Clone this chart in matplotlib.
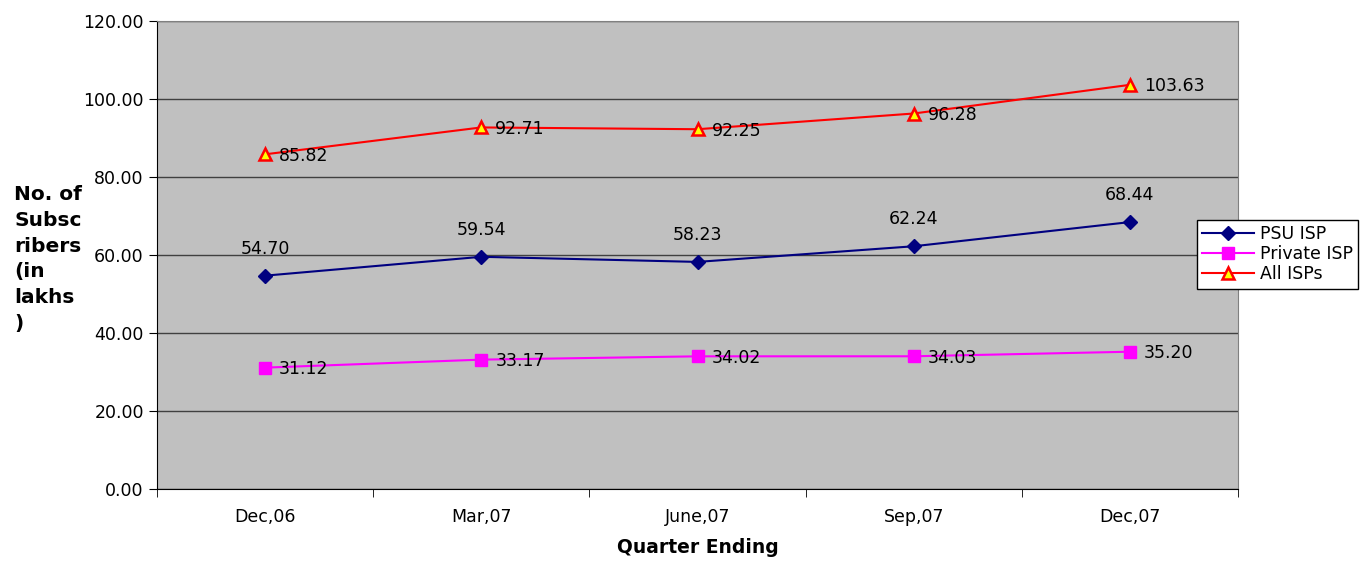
import matplotlib
matplotlib.use("Agg")
from matplotlib import pyplot as plt

quarters = ["Dec,06", "Mar,07", "June,07", "Sep,07", "Dec,07"]
psu_isp = [54.70, 59.54, 58.23, 62.24, 68.44]
private_isp = [31.12, 33.17, 34.02, 34.03, 35.20]
all_isps = [85.82, 92.71, 92.25, 96.28, 103.63]

TICKSIZE = 12.5
LABELSIZE = 13.5

fig = plt.figure(figsize=(13.64, 5.62), dpi=100)
ax = fig.add_axes([157/1364, 1 - 489/562, (1238 - 157)/1364, (489 - 21)/562])
ax.set_facecolor("#C0C0C0")

x = list(range(len(quarters)))
ax.plot(x, psu_isp, color="#000080", lw=1.5, marker="D", ms=7,
        mfc="#000080", mec="#000080", label="PSU ISP", zorder=3)
ax.plot(x, private_isp, color="#FF00FF", lw=1.5, marker="s", ms=9,
        mfc="#FF00FF", mec="#FF00FF", label="Private ISP", zorder=3)
ax.plot(x, all_isps, color="#FF0000", lw=1.5, marker="^", ms=9,
        mfc="#FFFF00", mec="#FF0000", mew=1.8, label="All ISPs", zorder=3)

# data labels
for i, v in enumerate(psu_isp):
    ax.annotate("%.2f" % v, (i, v), xytext=(0, 13), textcoords="offset points",
                ha="center", va="bottom", fontsize=TICKSIZE)
for i, v in enumerate(private_isp):
    ax.annotate("%.2f" % v, (i, v), xytext=(10, -1), textcoords="offset points",
                ha="left", va="center", fontsize=TICKSIZE)
for i, v in enumerate(all_isps):
    ax.annotate("%.2f" % v, (i, v), xytext=(10, -1), textcoords="offset points",
                ha="left", va="center", fontsize=TICKSIZE)

ax.set_xlim(-0.5, len(quarters) - 0.5)
ax.set_ylim(0, 120)
ax.set_yticks(range(0, 121, 20))
ax.set_yticklabels(["%.2f" % t for t in range(0, 121, 20)])
ax.yaxis.grid(True, color="#404040", lw=1)
ax.set_axisbelow(True)

ax.set_xticks(x)
ax.set_xticklabels(quarters)
ax.set_xticks([i + 0.5 for i in range(-1, len(quarters))], minor=True)
ax.tick_params(axis="x", which="major", length=0, pad=14, labelsize=TICKSIZE)
ax.tick_params(axis="x", which="minor", length=6, direction="out")
ax.tick_params(axis="y", length=6, direction="out", labelsize=TICKSIZE)

for side in ["top", "right"]:
    ax.spines[side].set_color("#808080")
for side in ["left", "bottom"]:
    ax.spines[side].set_color("black")

ax.set_xlabel("Quarter Ending", fontsize=LABELSIZE, fontweight="bold", labelpad=8)
fig.text(14/1364, 1 - 185/562, "No. of\nSubsc\nribers\n(in\nlakhs\n)",
         fontsize=14.5, fontweight="bold", ha="left", va="top", linespacing=1.45)

leg = fig.legend(loc="upper left", bbox_to_anchor=(1197/1364, 1 - 220/562),
                 fontsize=TICKSIZE, frameon=True, fancybox=False, framealpha=1,
                 edgecolor="black", borderpad=0.3, labelspacing=0.12,
                 handlelength=3.0, handletextpad=0.3, borderaxespad=0)
leg.get_frame().set_linewidth(1)

fig.savefig("out.png", dpi=100)
